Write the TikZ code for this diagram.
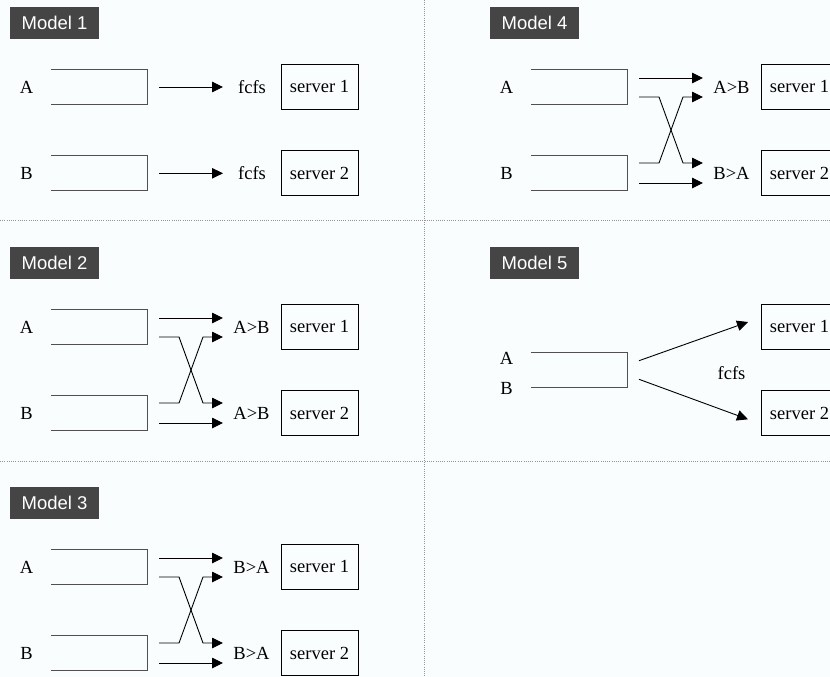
\documentclass[tikz,border=0pt]{standalone}
\usepackage{fontspec}
\setmainfont{Liberation Serif}
\newfontfamily\tagfont{Liberation Sans}
\usetikzlibrary{arrows.meta}

\definecolor{bgcol}{RGB}{250,253,254}
\definecolor{tagcol}{RGB}{69,69,69}
\definecolor{qcol}{RGB}{80,80,80}
\definecolor{sepcol}{RGB}{150,150,150}

\tikzset{
  tag/.style={fill=tagcol, text=white, font=\tagfont\fontsize{18.5}{18.5}\selectfont,
    minimum width=89pt, minimum height=32pt, inner sep=0pt},
  txt/.style={font=\fontsize{18.5}{18.5}\selectfont, inner sep=0pt},
  server/.style={draw, line width=0.9pt, minimum width=77pt, minimum height=45pt,
    inner sep=0pt, font=\fontsize{18.5}{18.5}\selectfont},
  queue/.style={minimum width=96pt, minimum height=34.5pt, inner sep=0pt},
  qline/.style={draw=qcol, line width=1pt},
  flow/.style={line width=0.9pt, -{Triangle[length=11pt,width=10.5pt]}},
  sep/.style={sepcol, line width=0.8pt, dash pattern=on 1pt off 1.2pt},
}

% open-ended queue: top, right and bottom sides only
\newcommand\qbox[3]{%
  \node[queue] (#1) at (#2,#3) {};
  \draw[qline] (#1.north west) -- (#1.north east) -- (#1.south east) -- (#1.south west);}

% common parts: title tag, A/B queues, two servers
\newcommand\panelbase[2]{%
  \node[tag] (#1t) at (54.5,23) {#2};
  \node[txt] (#1la) at (26.5,87) {A};
  \node[txt] (#1lb) at (26.5,173) {B};
  \qbox{#1qa}{99}{87}
  \qbox{#1qb}{99}{173.3}
  \node[server] (#1s1) at (319.5,86.5) {server 1};
  \node[server] (#1s2) at (319.5,173.3) {server 2};}

% two queues, each with a straight and a crossing path to the servers
\newcommand\crosspanel[4]{%
  \panelbase{#1}{#2}
  \node[txt] (#1p1) at (251.5,87) {#3};
  \node[txt] (#1p2) at (251.5,173.3) {#4};
  \coordinate (#1a1) at (159,78);   \coordinate (#1e1) at (223,78);
  \coordinate (#1a2) at (159,97);   \coordinate (#1e2) at (223,163);
  \coordinate (#1b1) at (159,163);  \coordinate (#1f1) at (223,97);
  \coordinate (#1b2) at (159,183);  \coordinate (#1f2) at (223,183);
  \draw[flow] (#1a1) -- (#1e1);
  \draw[flow] (#1a2) -- ++(20,0) -- (203,163) -- (#1e2);
  \draw[flow] (#1b1) -- ++(20,0) -- (203,97) -- (#1f1);
  \draw[flow] (#1b2) -- (#1f2);}

\begin{document}
\begin{tikzpicture}[x=1pt,y=-1pt]
  \useasboundingbox (0,0) rectangle (830,677);
  \clip (0,0) rectangle (830,677);
  \fill[bgcol] (0,0) rectangle (830,677);

  % separators
  \draw[sep] (0,220) -- (830,220);
  \draw[sep] (0,461) -- (830,461);
  \draw[sep] (424,0) -- (424,677);

  % Model 1: one fcfs queue per server
  \begin{scope}
    \panelbase{m1}{Model 1}
    \node[txt] (m1p1) at (252,87) {fcfs};
    \node[txt] (m1p2) at (252,173.3) {fcfs};
    \coordinate (m1a) at (159,87);    \coordinate (m1ea) at (223,87);
    \coordinate (m1b) at (159,173.3); \coordinate (m1eb) at (223,173.3);
    \draw[flow] (m1a) -- (m1ea);
    \draw[flow] (m1b) -- (m1eb);
  \end{scope}

  % Model 2
  \begin{scope}[shift={(0,240)}]
    \crosspanel{m2}{Model 2}{A>B}{A>B}
  \end{scope}

  % Model 3
  \begin{scope}[shift={(0,480)}]
    \crosspanel{m3}{Model 3}{B>A}{B>A}
  \end{scope}

  % Model 4
  \begin{scope}[shift={(480,0)}]
    \crosspanel{m4}{Model 4}{A>B}{B>A}
  \end{scope}

  % Model 5: one shared queue feeding both servers
  \begin{scope}[shift={(480,240)}]
    \node[tag] (m5t) at (54.5,23) {Model 5};
    \node[txt] (m5la) at (26.5,118) {A};
    \node[txt] (m5lb) at (26.5,148) {B};
    \qbox{m5q}{99}{130}
    \node[server] (m5s1) at (319.5,86.5) {server 1};
    \node[server] (m5s2) at (319.5,173.3) {server 2};
    \node[txt] (m5p) at (251.5,132.7) {fcfs};
    \coordinate (m5a) at (159,120.7); \coordinate (m5e1) at (268,82);
    \coordinate (m5b) at (159,139.3); \coordinate (m5e2) at (268,179.3);
    \draw[flow] (m5a) -- (m5e1);
    \draw[flow] (m5b) -- (m5e2);
  \end{scope}
\end{tikzpicture}
\end{document}
